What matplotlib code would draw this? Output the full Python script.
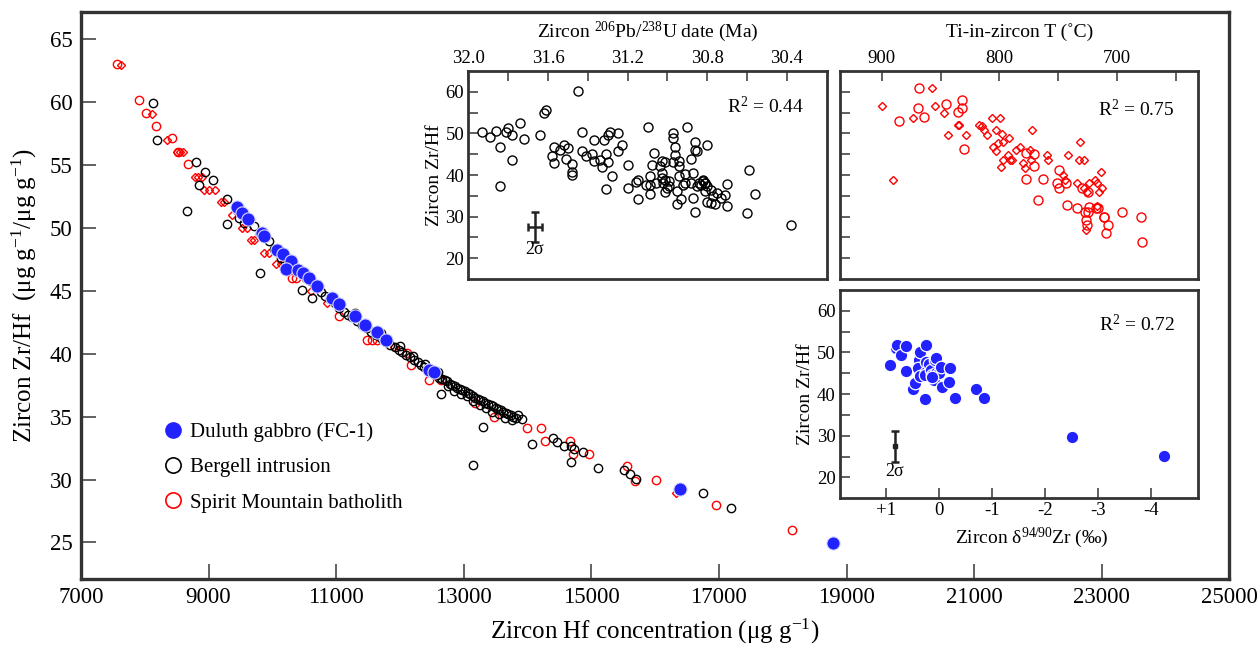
import matplotlib
matplotlib.use('Agg')
import matplotlib.pyplot as pl
from matplotlib.lines import Line2D
import numpy as np

pl.rcParams['font.family'] = ['Liberation Serif', 'DejaVu Serif']
pl.rcParams['mathtext.fontset'] = 'custom'
pl.rcParams['mathtext.rm'] = 'Liberation Serif'
pl.rcParams['mathtext.it'] = 'Liberation Serif:italic'
pl.rcParams['mathtext.default'] = 'regular'

# ---- main panel: Hf concentration vs Zr/Hf ----
duluth_hf = [9451, 9529, 9623, 9832, 9868, 10077, 10171, 10286, 10208, 10407, 10485,
             10573, 10705, 10940, 11043, 11294, 11446, 11634, 11775, 12453, 12531,
             16386, 18795]
duluth_zrhf = [51.66, 51.2, 50.7, 49.6, 49.3, 48.2, 47.9, 47.35, 46.75, 46.6, 46.4,
               46.0, 45.36, 44.38, 43.9, 42.97, 42.3, 41.7, 41.1, 38.7, 38.5,
               29.27, 24.95]

bergell_hf = [8134, 8197, 8797, 8938, 9074, 8849, 9283, 8656, 9294, 9805, 10469, 10626,
              9480, 9560, 9711, 9800, 9946, 10020, 10129, 10200, 10300, 10380, 10520,
              10680, 10760, 10820, 10900, 10980, 11050, 11120, 11180, 11250, 11330,
              11400, 11480, 11550, 11620, 11700, 11780, 11850, 11920, 11980, 12040,
              12100, 12160, 12220, 12280, 12330, 12380, 12430, 12480, 12530, 12580,
              12620, 12660, 12700, 12740, 12780, 12820, 12860, 12900, 12940, 12980,
              13020, 13060, 13100, 13140, 13180, 13220, 13260, 13300, 13340, 13380,
              13420, 13460, 13500, 13540, 13580, 13620, 13660, 13700, 13740, 13780,
              13820, 12750, 12850, 12950, 13050, 13150, 13250, 13350, 13450, 13550,
              13650, 13750, 13850, 12600, 12400, 12200, 12640, 13143, 13300, 13917,
              14074, 14403, 14465, 14569, 14674, 14736, 14674, 14866, 15108, 15509,
              15603, 15708, 16753, 17192, 11300, 11700, 12000, 10300, 10600]
bergell_zrhf = [59.9, 57.0, 55.2, 54.4, 53.8, 53.4, 52.3, 51.3, 50.3, 46.4, 45.04, 44.4,
                50.8, 50.4, 50.1, 49.5, 48.95, 48.3, 47.6, 47.3, 46.9, 46.5, 46.0,
                45.3, 44.9, 44.6, 44.3, 44.0, 43.6, 43.3, 43.1, 42.9, 42.6,
                42.3, 42.0, 41.7, 41.5, 41.2, 40.9, 40.7, 40.5, 40.3, 40.1,
                39.9, 39.7, 39.5, 39.3, 39.1, 38.9, 38.8, 38.6, 38.4, 38.3,
                38.1, 38.0, 37.9, 37.8, 37.6, 37.5, 37.4, 37.3, 37.2, 37.1,
                37.0, 36.9, 36.8, 36.6, 36.5, 36.4, 36.3, 36.2, 36.1, 36.0,
                35.9, 35.8, 35.7, 35.6, 35.5, 35.4, 35.3, 35.2, 35.1, 35.0,
                34.9, 37.4, 37.0, 36.8, 36.6, 36.2, 35.9, 35.7, 35.4, 35.2,
                34.9, 34.7, 35.1, 38.5, 39.2, 39.8, 36.8, 31.14, 34.14, 34.8,
                32.8, 33.26, 33.0, 32.7, 32.7, 32.4, 31.4, 32.2, 30.95, 30.74,
                30.47, 30.07, 28.93, 27.76, 43.2, 41.6, 40.6, 47.2, 45.8]

spirit_o_hf = [7570, 7909, 8014, 8171, 8432, 8520, 8677, 10312, 10364, 11043, 11488,
               11560, 11645, 12106, 12173, 12457, 12645, 13169, 13472, 13995, 14204,
               14271, 14664, 14716, 14971, 15562, 15692, 16016, 16962, 18151]
spirit_o_zrhf = [63.0, 60.1, 59.1, 58.1, 57.1, 56.0, 55.06, 46.0, 46.0, 43.0, 41.1,
                 41.1, 41.1, 40.04, 39.06, 37.9, 37.9, 36.1, 35.0, 34.06, 34.06,
                 33.05, 33.07, 32.0, 32.0, 31.06, 29.9, 29.97, 28.0, 26.0]

spirit_d_hf = [7620, 8119, 8343, 8500, 8550, 8600, 8780, 8830, 8890, 8930, 9000, 9100,
               9190, 9250, 9372, 9530, 9600, 9660, 9710, 9863, 9940, 10050, 10130,
               10610, 10850, 11900, 16335]
spirit_d_zrhf = [62.9, 59.05, 57.0, 56.0, 56.0, 56.0, 54.0, 54.0, 54.0, 53.0, 53.0, 53.0,
                 52.0, 52.0, 51.0, 50.0, 50.0, 49.0, 49.0, 48.0, 48.0, 47.1, 47.1,
                 45.0, 44.0, 40.5, 28.95]

# ---- inset: U-Pb date vs Zr/Hf (Bergell) ----
date_ma = [31.93, 31.89, 31.86, 31.84, 31.84, 31.81, 31.80, 31.78, 31.78, 31.74, 31.72,
           31.64, 31.62, 31.61, 31.58, 31.57, 31.57, 31.54, 31.52, 31.51, 31.50, 31.48,
           31.48, 31.48, 31.45, 31.43, 31.43, 31.41, 31.38, 31.37, 31.37, 31.34, 31.33,
           31.32, 31.31, 31.31, 31.30, 31.30, 31.29, 31.28, 31.25, 31.25, 31.23, 31.20,
           31.20, 31.16, 31.15, 31.15, 31.11, 31.10, 31.09, 31.09, 31.09, 31.08, 31.07,
           31.06, 31.04, 31.03, 31.03, 31.03, 31.02, 31.01, 31.01, 31.00, 31.01, 30.99,
           30.99, 30.97, 30.97, 30.97, 30.96, 30.96, 30.95, 30.95, 30.94, 30.94, 30.94,
           30.93, 30.92, 30.91, 30.91, 30.90, 30.88, 30.88, 30.87, 30.87, 30.86, 30.86,
           30.86, 30.85, 30.85, 30.84, 30.83, 30.82, 30.82, 30.81, 30.81, 30.81, 30.80,
           30.80, 30.80, 30.78, 30.78, 30.77, 30.76, 30.75, 30.73, 30.71, 30.70, 30.70,
           30.60, 30.59, 30.56, 30.38]
date_zrhf = [50.3, 49.2, 50.5, 46.7, 37.3, 50.3, 51.2, 49.5, 43.5, 52.5, 48.7,
             49.7, 54.8, 55.7, 44.5, 46.7, 42.9, 46.1, 47.3, 43.9, 46.4, 42.7,
             40.7, 40.0, 60.3, 50.3, 45.7, 44.5, 45.1, 48.4, 43.3, 43.7, 41.9,
             48.4, 36.7, 45.1, 43.1, 49.7, 50.3, 39.8, 50.1, 45.7, 47.2, 42.3,
             37.0, 38.3, 34.3, 38.8, 37.5, 51.6, 37.5, 39.7, 35.5, 42.3, 45.3,
             38.1, 42.1, 40.5, 43.3, 39.3, 38.1, 38.8, 43.1, 36.9, 35.8, 37.4,
             38.5, 50.0, 48.9, 43.1, 46.7, 44.7, 33.0, 36.2, 43.3, 42.1, 39.7,
             34.2, 37.7, 38.1, 40.3, 51.6, 38.1, 43.9, 40.5, 34.5, 46.1, 31.1,
             47.9, 45.8, 37.3, 38.1, 37.7, 38.9, 38.5, 38.1, 36.1, 38.1, 33.4,
             47.3, 37.4, 33.3, 36.5, 34.9, 33.1, 35.7, 34.5, 35.3, 32.6, 37.8,
             30.8, 41.1, 35.5, 28.0]

# ---- inset: Ti-in-zircon T vs Zr/Hf (Spirit Mountain) ----
ti_o_t = [885.3, 868.0, 869.4, 863.8, 845.7, 835.5, 832.1, 832.1, 830.1, 777.8, 777.5,
          770.4, 770.4, 767.6, 762.8, 751.5, 749.2, 749.2, 743.6, 742.4, 733.9, 729.7,
          725.2, 727.5, 726.6, 726.0, 724.6, 723.8, 718.1, 716.7, 711.3, 711.0, 707.6,
          709.6, 696.0, 679.9, 679.0]
ti_o_zrhf = [53.0, 61.0, 56.2, 54.0, 57.0, 55.2, 58.1, 56.2, 46.2, 45.2, 39.1,
             45.1, 42.1, 34.1, 39.1, 38.1, 41.1, 36.9, 38.0, 32.9, 32.1, 36.9,
             35.9, 31.0, 29.1, 28.1, 31.0, 32.2, 32.1, 32.1, 29.9, 29.9, 28.1,
             26.1, 31.0, 29.9, 24.0]
ti_d_t = [900.0, 890.0, 873.1, 857.0, 854.7, 846.8, 843.4, 835.5, 834.1, 828.4, 817.4,
          814.6, 812.9, 810.9, 806.6, 799.6, 803.0, 805.8, 803.3, 801.0, 798.2, 797.3,
          797.3, 798.7, 792.5, 791.1, 789.7, 792.1, 786.1, 782.6, 780.4, 778.4, 774.1,
          773.3, 772.1, 760.0, 759.1, 745.8, 744.4, 742.2, 734.5, 731.7, 732.8, 728.3,
          728.3, 726.0, 726.6, 723.8, 718.9, 717.5, 717.5, 715.3, 714.1, 713.3]
ti_d_zrhf = [56.6, 38.8, 53.8, 60.8, 56.7, 54.9, 49.7, 52.0, 52.0, 49.7, 52.0,
             51.8, 50.8, 49.6, 53.8, 53.8, 50.8, 46.8, 45.8, 47.8, 49.8, 47.9,
             43.7, 41.9, 44.8, 43.7, 43.7, 49.0, 46.0, 46.8, 42.8, 41.7, 46.0,
             43.7, 50.8, 44.8, 43.7, 39.9, 38.8, 44.8, 38.0, 47.9, 43.7, 43.7,
             36.9, 35.9, 26.7, 38.0, 38.9, 38.0, 32.6, 35.9, 40.7, 36.8]

# ---- inset: delta 94/90 Zr vs Zr/Hf (Duluth) ----
delta_zr = [0.93, 0.81, 0.82, 0.79, 0.71, 0.62, 0.62, 0.49, 0.46, 0.38, 0.35, 0.40,
            0.35, 0.24, 0.26, 0.24, 0.24, 0.27, 0.19, 0.16, 0.13, 0.10, 0.08, 0.06,
            0.05, 0.00, -0.03, -0.06, 0.14, -0.18, -0.20, -0.31, -0.70, -0.84,
            -2.50, -4.24]
delta_zrhf = [47.0, 51.4, 51.0, 51.8, 49.4, 51.6, 45.5, 41.2, 42.6, 48.2, 50.2, 46.3,
              44.4, 51.9, 38.8, 47.8, 45.4, 44.7, 47.2, 45.8, 44.6, 43.4, 48.2, 48.7,
              45.0, 45.0, 46.6, 41.8, 44.2, 43.0, 46.3, 39.0, 41.2, 39.0,
              29.6, 25.2]

blue = '#2222ff'
spine_col = '#333333'


def style_spines(ax, lw):
    for s in ax.spines.values():
        s.set_linewidth(lw)
        s.set_color(spine_col)


fig = pl.figure(figsize=(12.59, 6.45), dpi=100)

ax = fig.add_axes([0.0643, 0.1023, 0.9121, 0.8786])
ax.plot(spirit_d_hf, spirit_d_zrhf, 'D', ms=4, mfc='none', mec='red', mew=1.0, zorder=2)
ax.plot(spirit_o_hf, spirit_o_zrhf, 'o', ms=6, mfc='none', mec='red', mew=1.0, zorder=2)
ax.plot(bergell_hf, bergell_zrhf, 'o', ms=6, mfc='none', mec='black', mew=1.0, zorder=3)
ax.plot(duluth_hf, duluth_zrhf, 'o', ms=9.5, mfc=blue, mec='#d8d8ff', mew=0.8, zorder=4)
ax.set_xlim(7000, 25000)
ax.set_ylim(22.1, 67.1)
ax.set_xticks(np.arange(7000, 25001, 2000))
ax.set_yticks(np.arange(25, 66, 5))
ax.tick_params(direction='in', length=11, width=1.3, color='#555555', labelsize=16.5,
               top=False, right=False, pad=6)
style_spines(ax, 2.4)
ax.set_xlabel(r'Zircon Hf concentration (μg g$^{-1}$)', fontsize=18, labelpad=6)
ax.set_ylabel(r'Zircon Zr/Hf  (μg g$^{-1}$/μg g$^{-1}$)', fontsize=18, labelpad=8)

handles = [Line2D([], [], ls='none', marker='o', ms=11, mfc=blue, mec=blue),
           Line2D([], [], ls='none', marker='o', ms=11, mfc='none', mec='black', mew=1.2),
           Line2D([], [], ls='none', marker='o', ms=11, mfc='none', mec='red', mew=1.2)]
ax.legend(handles, ['Duluth gabbro (FC-1)', 'Bergell intrusion', 'Spirit Mountain batholith'],
          loc='upper left', bbox_to_anchor=(0.059, 0.291), frameon=False, fontsize=15,
          handlelength=1.5, handletextpad=0.1, labelspacing=0.75, borderaxespad=0)

# inset 1: date
a1 = fig.add_axes([0.372, 0.5674, 0.2847, 0.3225])
a1.plot(date_ma, date_zrhf, 'o', ms=6.5, mfc='none', mec='black', mew=1.0)
a1.errorbar([31.665], [27.5], xerr=[0.036], yerr=[3.7], fmt='none', ecolor='#222222',
            elinewidth=1.8, capsize=3, capthick=1.8)
a1.text(31.665, 22.2, '2σ', ha='center', va='center', fontsize=13)
a1.text(0.83, 0.83, r'R$^2$ = 0.44', transform=a1.transAxes, ha='center', va='center',
        fontsize=14)
a1.set_xlim(32.0, 30.2)
a1.set_ylim(15, 65)
a1.set_xticks([32.0, 31.6, 31.2, 30.8, 30.4])
a1.set_xticks([31.8, 31.4, 31.0, 30.6], minor=True)
a1.set_yticks([20, 30, 40, 50, 60])
a1.set_yticks([25, 35, 45, 55], minor=True)
a1.xaxis.set_major_formatter(matplotlib.ticker.FormatStrFormatter('%.1f'))
a1.xaxis.tick_top()
a1.xaxis.set_label_position('top')
a1.tick_params(which='both', direction='in', length=7, width=1.2, color='#444444',
               labelsize=13.5, pad=3)
style_spines(a1, 2.0)
a1.set_xlabel(r'Zircon $^{206}$Pb/$^{238}$U date (Ma)', fontsize=14, labelpad=9)
a1.set_ylabel('Zircon Zr/Hf', fontsize=14, labelpad=2)

# inset 2: Ti-in-zircon
a2 = fig.add_axes([0.6672, 0.5674, 0.2846, 0.3225])
a2.plot(ti_d_t, ti_d_zrhf, 'D', ms=4.5, mfc='none', mec='red', mew=1.0)
a2.plot(ti_o_t, ti_o_zrhf, 'o', ms=6.5, mfc='none', mec='red', mew=1.0)
a2.text(0.826, 0.816, r'R$^2$ = 0.75', transform=a2.transAxes, ha='center', va='center',
        fontsize=14)
a2.set_xlim(935.4, 631.2)
a2.set_ylim(15, 65)
a2.set_xticks([900, 800, 700])
a2.set_xticks([850, 750, 650], minor=True)
a2.set_yticks([20, 25, 30, 35, 40, 45, 50, 55, 60])
a2.set_yticklabels([])
a2.xaxis.tick_top()
a2.xaxis.set_label_position('top')
a2.tick_params(which='both', direction='in', length=7, width=1.2, color='#444444',
               labelsize=13.5, pad=3)
style_spines(a2, 2.0)
a2.set_xlabel('Ti-in-zircon T (˚C)', fontsize=14, labelpad=9)

# inset 3: delta Zr
a3 = fig.add_axes([0.6672, 0.2274, 0.2846, 0.323])
a3.plot(delta_zr, delta_zrhf, 'o', ms=9, mfc=blue, mec='white', mew=0.9)
a3.errorbar([0.84], [27.5], yerr=[3.7], fmt='s', ms=2.5, color='#222222',
            elinewidth=1.8, capsize=3, capthick=1.8)
a3.text(0.84, 21.5, '2σ', ha='center', va='center', fontsize=13)
a3.text(0.828, 0.832, r'R$^2$ = 0.72', transform=a3.transAxes, ha='center', va='center',
        fontsize=14)
a3.set_xlim(1.868, -4.89)
a3.set_ylim(15, 65)
a3.set_xticks([1, 0, -1, -2, -3, -4])
a3.set_xticklabels(['+1', '0', '-1', '-2', '-3', '-4'])
a3.set_yticks([20, 30, 40, 50, 60])
a3.set_yticks([25, 35, 45, 55], minor=True)
a3.tick_params(which='both', direction='in', length=7, width=1.2, color='#444444',
               labelsize=13.5, pad=3)
style_spines(a3, 2.0)
a3.set_xlabel(r'Zircon δ$^{94/90}$Zr (‰)', fontsize=14, labelpad=2)
a3.xaxis.set_label_coords(0.535, -0.13)
a3.set_ylabel('Zircon Zr/Hf', fontsize=14, labelpad=2)

fig.savefig('out.png', dpi=100)
